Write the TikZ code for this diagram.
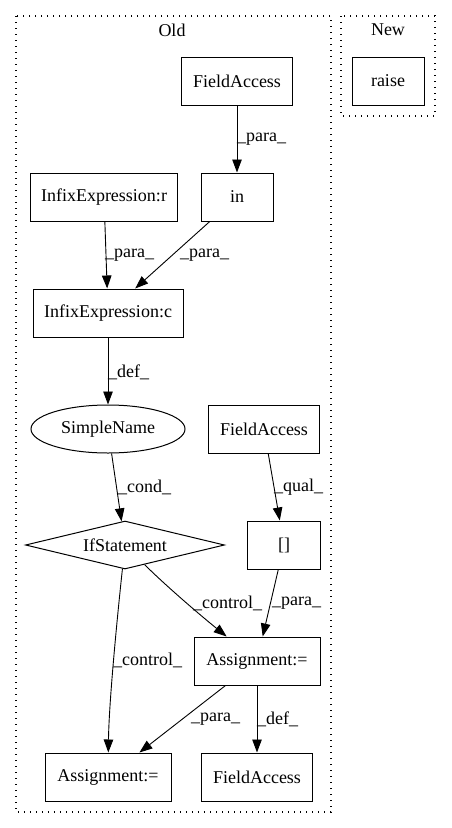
\documentclass[tikz,border=0pt]{standalone}
\usepackage{fontspec}
\setmainfont{Liberation Serif}
\usetikzlibrary{shapes.geometric,arrows.meta}
\begin{document}
\begin{tikzpicture}[x=1pt,y=-1pt,
  every node/.style={font=\fontsize{18pt}{21pt}\selectfont, inner sep=0pt},
  box/.style={draw, line width=1pt, rectangle, minimum height=48pt},
  oval/.style={draw, line width=1pt, ellipse, minimum height=48pt},
  dia/.style={draw, line width=1pt, diamond, aspect=4, minimum height=48pt},
  edge/.style={line width=0.9pt, -{Triangle[length=13pt,width=9.5pt]}},
  lbl/.style={anchor=west},
  cluster/.style={line width=1.3pt, dash pattern=on 1.3pt off 4.7pt}
]
\useasboundingbox (0,0) rectangle (451,828);
\draw[cluster] (16,16) rectangle (331,812);
\draw[cluster] (341,16) rectangle (435,116);
\node (oldlbl) at (172,30) {Old};
\node (newlbl) at (388,30) {New};

\node[box, minimum width=111pt] (fa1) at (237,81) {FieldAccess};
\node[box, minimum width=72pt] (raise) at (388,81) {raise};
\node[box, minimum width=147pt] (infr) at (104,197) {InfixExpression:r};
\node[box, minimum width=72pt] (in) at (237,197) {in};
\node[box, minimum width=150pt] (infc) at (108,313) {InfixExpression:c};
\node[oval, minimum width=154pt] (sn) at (108,429) {SimpleName};
\node[box, minimum width=111pt] (fa2) at (264,429) {FieldAccess};
\node[dia, minimum width=199pt] (ifs) at (125,545) {IfStatement};
\node[box, minimum width=73pt] (idx) at (284,545) {[]};
\node[box, minimum width=126pt] (amid) at (257,661) {Assignment:=};
\node[box, minimum width=126pt] (abot) at (108,777) {Assignment:=};
\node[box, minimum width=111pt] (fa3) at (257,777) {FieldAccess};

\draw[edge] (fa1) -- (in);
\node[lbl] (l1) at (237,139) {\_para\_};
\draw[edge] (infr) -- (infc);
\node[lbl] (l2) at (105,255) {\_para\_};
\draw[edge] (in) -- (infc);
\node[lbl] (l3) at (180,255) {\_para\_};
\draw[edge] (infc) -- (sn);
\node[lbl] (l4) at (108,372) {\_def\_};
\draw[edge] (sn) -- (ifs);
\node[lbl] (l5) at (118,487) {\_cond\_};
\draw[edge] (fa2) -- (idx);
\node[lbl] (l6) at (274,487) {\_qual\_};
\draw[edge] (ifs) .. controls (165,585) and (200,615) .. (amid);
\node[lbl] (l7) at (193,603) {\_control\_};
\draw[edge] (idx) -- (amid);
\node[lbl] (l8) at (272,603) {\_para\_};
\draw[edge] (ifs) .. controls (118,610) and (109,700) .. (abot);
\node[lbl] (l9) at (113,660) {\_control\_};
\draw[edge] (amid) -- (abot);
\node[lbl] (l10) at (191,719) {\_para\_};
\draw[edge] (amid) -- (fa3);
\node[lbl] (l11) at (257,719) {\_def\_};
\end{tikzpicture}
\end{document}
